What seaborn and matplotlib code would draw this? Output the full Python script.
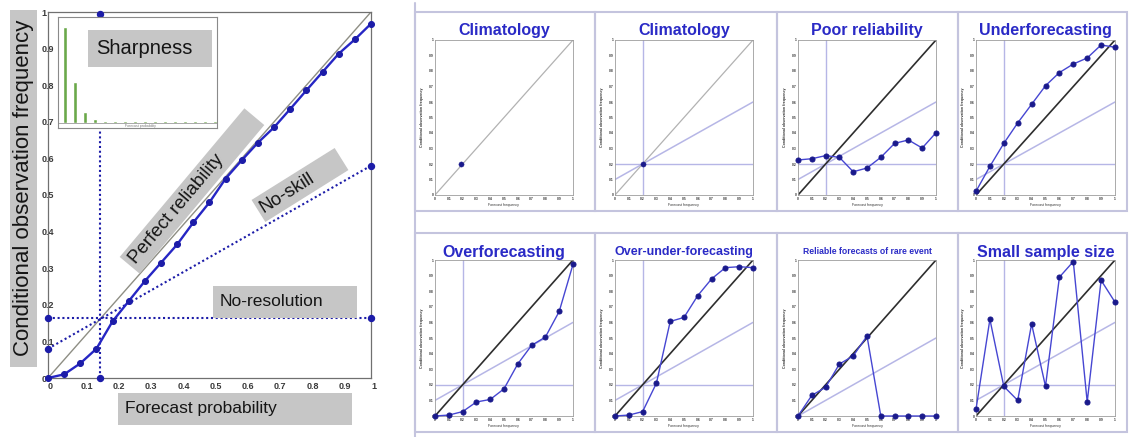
"""
Reliability diagram overview: one annotated example on the left,
eight small typical cases on the right.
"""

import numpy as np
import matplotlib
matplotlib.use("Agg")
import matplotlib.pyplot as plt
import matplotlib.transforms as mtransforms
from matplotlib.patches import Polygon, Rectangle
from matplotlib.lines import Line2D
import seaborn as sns

W, H, DPI = 1129, 437, 100

# ---------- Data ----------
main_prob = [0.0, 0.05, 0.1, 0.15, 0.2, 0.25, 0.3, 0.35, 0.4, 0.45, 0.5,
             0.55, 0.6, 0.65, 0.7, 0.75, 0.8, 0.85, 0.9, 0.95, 1.0]
main_obs = [0.0, 0.01, 0.04, 0.08, 0.155, 0.21, 0.265, 0.315, 0.365, 0.425, 0.48,
            0.545, 0.595, 0.643, 0.685, 0.735, 0.786, 0.836, 0.886, 0.925, 0.968]
main_clim_obs = 0.165
main_clim_prob = 0.16
main_noskill = [0.08, 0.58]

sharp_bins = list(range(16))
sharp_freq = [0.905, 0.385, 0.10, 0.035, 0.012, 0.012, 0.012, 0.012,
              0.012, 0.012, 0.012, 0.012, 0.012, 0.012, 0.012, 0.012]

panel_prob = [0.0, 0.1, 0.2, 0.3, 0.4, 0.5, 0.6, 0.7, 0.8, 0.9, 1.0]
clim1_x, clim1_y = [0.19], [0.2]
clim2_x, clim2_y = [0.2], [0.2]
poor_obs = [0.226, 0.234, 0.254, 0.243, 0.15, 0.174, 0.243, 0.333, 0.355, 0.303, 0.402]
under_obs = [0.024, 0.185, 0.333, 0.465, 0.585, 0.705, 0.79, 0.845, 0.884, 0.968, 0.953]
over_obs = [0.0, 0.006, 0.028, 0.09, 0.106, 0.174, 0.334, 0.453, 0.506, 0.67, 0.972]
overunder_obs = [0.0, 0.006, 0.028, 0.21, 0.606, 0.632, 0.772, 0.879, 0.951, 0.957, 0.951]
rare_obs = [0.0, 0.132, 0.184, 0.333, 0.385, 0.513, 0.0, 0.0, 0.0, 0.0, 0.0]
small_obs = [0.043, 0.62, 0.19, 0.1, 0.59, 0.19, 0.89, 0.99, 0.09, 0.87, 0.73]

panel_titles = ["Climatology", "Climatology", "Poor reliability", "Underforecasting",
                "Overforecasting", "Over-under-forecasting",
                "Reliable forecasts of rare event", "Small sample size"]
panel_clim = [None, 0.2, 0.2, 0.2, 0.2, 0.2, 0.0, 0.2]
tick_vals = [0, 0.1, 0.2, 0.3, 0.4, 0.5, 0.6, 0.7, 0.8, 0.9, 1]
tick_text = ["0", "0.1", "0.2", "0.3", "0.4", "0.5", "0.6", "0.7", "0.8", "0.9", "1"]

# ---------- Style ----------
sns.set_style("white")
plt.rcParams['font.family'] = ['Liberation Sans', 'DejaVu Sans']

BLUE = '#2626c4'
DOT_BLUE = '#1c1ca8'
LIGHT = '#b6b6e6'
BOX_GRAY = '#c6c6c6'
TITLE_BLUE = '#2a2ac6'

fig = plt.figure(figsize=(W / DPI, H / DPI), dpi=DPI)
fig.patch.set_facecolor('white')

# pixel coordinates, origin top-left
px = mtransforms.Affine2D().scale(1 / DPI, -1 / DPI).translate(0, H / DPI) + fig.dpi_scale_trans


def rect(x0, y0, x1, y1):
    return [x0 / W, 1 - y1 / H, (x1 - x0) / W, (y1 - y0) / H]


def gray_box(cx, cy, length, width, angle):
    a = np.deg2rad(angle)
    u = np.array([np.cos(a), -np.sin(a)])
    v = np.array([np.sin(a), np.cos(a)])
    c = np.array([cx, cy])
    pts = [c - u * length / 2 - v * width / 2, c + u * length / 2 - v * width / 2,
           c + u * length / 2 + v * width / 2, c - u * length / 2 + v * width / 2]
    fig.patches.append(Polygon(pts, closed=True, facecolor=BOX_GRAY, edgecolor='none',
                               transform=px, zorder=20))


def box_label(text, x, y, size, angle=0, ha='center'):
    fig.text(x, y, text, transform=px, fontsize=size, rotation=angle,
             rotation_mode='anchor', ha=ha, va='center', color='#151515', zorder=21)


# ---------- Left: annotated reliability diagram ----------
ax = fig.add_axes(rect(48, 12, 371, 378))
ax.set_xlim(0, 1)
ax.set_ylim(0, 1)
ax.plot([0, 1], [0, 1], color='#8e8e84', lw=1.0, zorder=2)
dots = dict(color=DOT_BLUE, ls=(0, (1, 1.3)), lw=1.5, marker='o', markersize=4.3,
            clip_on=False, zorder=3)
ax.plot([0, 1], [main_clim_obs, main_clim_obs], **dots)
ax.plot([0, 1], main_noskill, **dots)
ax.plot([main_clim_prob, main_clim_prob], [0, 0.995], **dots)
sns.lineplot(x=main_prob, y=main_obs, ax=ax, color=BLUE, lw=1.7, marker='o',
             markersize=4.3, markerfacecolor=DOT_BLUE, markeredgecolor=DOT_BLUE,
             estimator=None, clip_on=False, zorder=5)
for s in ax.spines.values():
    s.set_color('#707070')
    s.set_linewidth(0.9)
ax.set_xticks(tick_vals)
ax.set_xticklabels(tick_text)
ax.set_yticks(tick_vals)
ax.set_yticklabels(tick_text)
ax.tick_params(length=0, labelsize=6.5, labelcolor='#3a3a3a', pad=4.5)
for lab in ax.get_xticklabels() + ax.get_yticklabels():
    lab.set_fontweight('bold')
    lab.set_horizontalalignment('left')
ax.tick_params(axis='x', pad=3)

# sharpness inset
ax_in = fig.add_axes(rect(58, 17, 217, 128))
sns.barplot(x=sharp_bins, y=sharp_freq, color='#6aa84a', width=0.45, ax=ax_in,
            saturation=1)
ax_in.axhline(0, color='#9a9a9a', lw=0.6)
ax_in.set_xlim(-0.7, 15.2)
ax_in.set_ylim(-0.05, 1.0)
ax_in.set_xticks([])
ax_in.set_yticks([])
ax_in.set_xlabel('')
ax_in.set_ylabel('')
ax_in.text(7.5, -0.035, 'Forecast probability', fontsize=2.5, ha='center', va='center',
           color='#777777')
for s in ax_in.spines.values():
    s.set_color('#8a8a8a')
    s.set_linewidth(0.8)

# gray annotation boxes
gray_box(23.5, 188.5, 357, 27, 90)
box_label('Conditional observation frequency', 23.5, 188, 16, angle=90)
gray_box(235, 409, 234, 32, 0)
box_label('Forecast probability', 125, 409, 12.5, ha='left')
gray_box(285, 302, 144, 32, 0)
box_label('No-resolution', 220, 302, 12.5, ha='left')
gray_box(150, 48.5, 124, 37, 0)
box_label('Sharpness', 96, 48.5, 14.5, ha='left')
gray_box(192, 191, 194, 26, 50)
box_label('Perfect reliability', 192 - 23.6 * np.cos(np.deg2rad(50)),
          191 + 23.6 * np.sin(np.deg2rad(50)), 13.5, angle=50)
gray_box(300, 185, 98, 26, 32)
box_label('No-skill', 300 - 15 * np.cos(np.deg2rad(32)),
          185 + 15 * np.sin(np.deg2rad(32)), 13.5, angle=32)

# ---------- Right: eight typical cases ----------
col_frames = [(415, 595), (595, 777), (777, 958), (958, 1127)]
row_frames = [(12, 211), (233, 432)]
col_axes = [(435, 573), (615, 753), (798, 936), (976, 1115)]
row_axes = [(40, 195), (260, 416)]
title_sizes = [11.5, 11.5, 11.5, 11.5, 11.5, 9, 6.2, 11.5]
title_y = [30, 252]

series = [(clim1_x, clim1_y), (clim2_x, clim2_y), (panel_prob, poor_obs),
          (panel_prob, under_obs), (panel_prob, over_obs), (panel_prob, overunder_obs),
          (panel_prob, rare_obs), (panel_prob, small_obs)]

FRAME = '#c4c4de'
fig.add_artist(Line2D([415, 415], [3, 437], color=FRAME, lw=1.5, transform=px))

for i, (title, clim, (xs, ys)) in enumerate(zip(panel_titles, panel_clim, series)):
    r, c = divmod(i, 4)
    fx0, fx1 = col_frames[c]
    fy0, fy1 = row_frames[r]
    fig.add_artist(Rectangle((fx0, fy0), fx1 - fx0, fy1 - fy0, fill=False,
                             edgecolor=FRAME, lw=1.5, transform=px))
    ax0, ax1 = col_axes[c]
    ay0, ay1 = row_axes[r]
    a = fig.add_axes(rect(ax0, ay0, ax1, ay1))
    a.set_xlim(0, 1)
    a.set_ylim(0, 1)
    diag = '#b2b2b2' if i < 2 else '#2e2e2e'
    a.plot([0, 1], [0, 1], color=diag, lw=0.9 if i < 2 else 1.2, zorder=2)
    if clim is not None:
        a.plot([0, 1], [clim / 2, (1 + clim) / 2], color=LIGHT, lw=1.1, zorder=1)
        if clim > 0:
            a.axhline(clim, color=LIGHT, lw=1.0, zorder=1)
            a.axvline(clim, color=LIGHT, lw=1.0, zorder=1)
    if len(xs) == 1:
        sns.scatterplot(x=xs, y=ys, ax=a, color='#1a1a8c', s=14, edgecolor='#1a1a8c',
                        zorder=5)
    else:
        sns.lineplot(x=xs, y=ys, ax=a, color='#4646d2', lw=1.0, marker='o',
                     markersize=3.6, markerfacecolor='#1a1a8c',
                     markeredgecolor='#1a1a8c', estimator=None, clip_on=False, zorder=5)
    for s in a.spines.values():
        s.set_color('#9c9c9c')
        s.set_linewidth(0.6)
    a.set_xticks(tick_vals)
    a.set_xticklabels(tick_text)
    a.set_yticks(tick_vals)
    a.set_yticklabels(tick_text)
    a.tick_params(length=0, labelsize=2.4, labelcolor='#333333', pad=1.2)
    for lab in a.get_xticklabels() + a.get_yticklabels():
        lab.set_fontweight('bold')
    a.set_xlabel('Forecast frequency', fontsize=2.6, labelpad=1.5, color='#333333')
    a.set_ylabel('Conditional observation frequency', fontsize=2.6, fontweight='bold',
                 labelpad=3.5, color='#333333')
    fig.text((ax0 + ax1) / 2, title_y[r], title, transform=px, fontsize=title_sizes[i],
             fontweight='bold', color=TITLE_BLUE, ha='center', va='center', zorder=10)

fig.savefig('out.png', dpi=DPI)
plt.close(fig)
